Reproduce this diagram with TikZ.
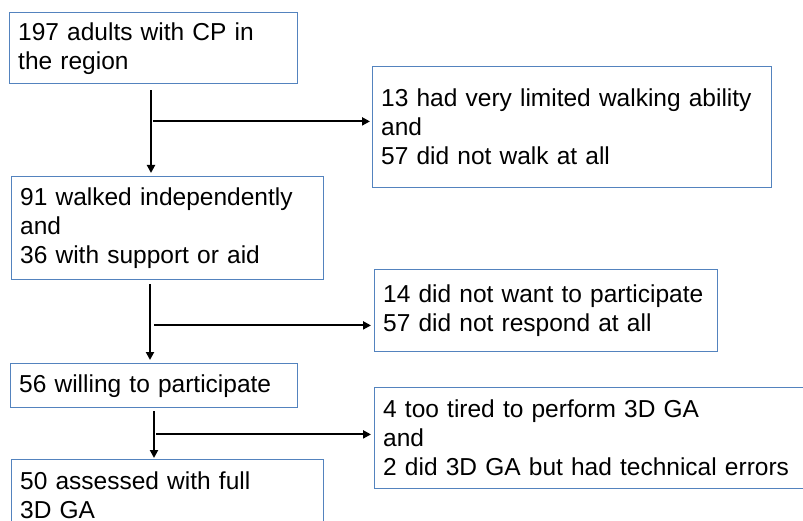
\documentclass[tikz,border=0pt]{standalone}
\usepackage{fontspec}
\setmainfont{Liberation Sans}
\usepackage{xcolor}
\definecolor{cBox}{HTML}{5383BE}
\usepackage{tikz}
\usetikzlibrary{arrows.meta,calc}
\tikzset{
  node-box/.style={draw=cBox,line width=1.4pt,anchor=north west,
    align=left,inner xsep=8.5pt,inner ysep=0pt,
    font=\fontsize{24.5}{29}\selectfont},
  arrow/.style={-{Triangle[length=8pt,width=8pt]},line width=2pt,draw=black},
}
\begin{document}
\begin{tikzpicture}[x=1pt,y=-1pt]
  \useasboundingbox (0,0) rectangle (803,521);
  \clip (0,0) rectangle (803,521);
  \node[node-box,text width=271pt,minimum height=71pt] (adults) at (9,12) {197 adults with CP in\\the region};
  \node[node-box,text width=382pt,minimum height=121pt] (walk) at (372,66) {13 had very limited walking ability\\and\\57 did not walk at all};
  \node[node-box,text width=295pt,minimum height=103pt] (indep) at (11,176) {91 walked independently\\and\\36 with support or aid};
  \node[node-box,text width=326pt,minimum height=82pt] (decline) at (374,269) {14 did not want to participate\\57 did not respond at all};
  \node[node-box,text width=270pt,minimum height=44pt] (willing) at (10,363) {56 willing to participate};
  \node[node-box,text width=423pt,minimum height=101pt] (tired) at (374,387) {4 too tired to perform 3D GA\\and\\2 did 3D GA but had technical errors};
  \node[node-box,text width=295pt,minimum height=72pt] (assessed) at (11,459) {50 assessed with full\\3D GA};
  \coordinate (j1) at ($(adults.south west)+(144,37)$);
  \coordinate (j2) at ($(indep.south west)+(143,45)$);
  \coordinate (j3) at ($(willing.south west)+(146,26)$);
  \draw[arrow] ($(adults.south west)+(142,6)$) -- ($(indep.north west)+(140,-3)$);
  \draw[arrow,shorten >=2pt] (j1) -- (j1 -| walk.west);
  \draw[arrow] ($(indep.south west)+(139,4)$) -- ($(willing.north west)+(140,-3)$);
  \draw[arrow,shorten >=3pt] (j2) -- (j2 -| decline.west);
  \draw[arrow] ($(willing.south west)+(144,3)$) -- ($(assessed.north west)+(143,-1)$);
  \draw[arrow,shorten >=3pt] (j3) -- (j3 -| tired.west);
\end{tikzpicture}
\end{document}
